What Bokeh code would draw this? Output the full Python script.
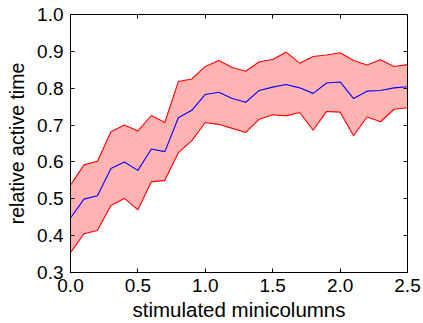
from bokeh.plotting import figure
from bokeh.models import LinearAxis, Range1d, FixedTicker, ColumnDataSource, PrintfTickFormatter
from bokeh.embed import file_html
from bokeh.resources import INLINE

x = [0.0, 0.1, 0.2, 0.3, 0.4, 0.5, 0.6, 0.7, 0.8, 0.9, 1.0, 1.1, 1.2,
     1.3, 1.4, 1.5, 1.6, 1.7, 1.8, 1.9, 2.0, 2.1, 2.2, 2.3, 2.4, 2.5]
mean = [0.448, 0.499, 0.508, 0.582, 0.600, 0.577, 0.635, 0.628, 0.720, 0.740,
        0.783, 0.789, 0.772, 0.762, 0.794, 0.803, 0.810, 0.801, 0.786, 0.814,
        0.817, 0.772, 0.792, 0.794, 0.801, 0.804]
upper = [0.537, 0.592, 0.602, 0.682, 0.700, 0.684, 0.726, 0.707, 0.818, 0.825,
         0.859, 0.875, 0.856, 0.846, 0.872, 0.878, 0.898, 0.868, 0.886, 0.890,
         0.896, 0.875, 0.863, 0.877, 0.859, 0.864]
lower = [0.354, 0.405, 0.414, 0.482, 0.501, 0.470, 0.546, 0.550, 0.625, 0.658,
         0.707, 0.702, 0.691, 0.680, 0.716, 0.728, 0.725, 0.734, 0.686, 0.737,
         0.735, 0.671, 0.722, 0.709, 0.743, 0.747]
x_ticks = [0.0, 0.5, 1.0, 1.5, 2.0, 2.5]
y_ticks = [0.3, 0.4, 0.5, 0.6, 0.7, 0.8, 0.9, 1.0]

src = ColumnDataSource(dict(x=x, mean=mean, upper=upper, lower=lower))

FONT = "Liberation Sans"

p = figure(width=423, height=323, output_backend="svg", toolbar_location=None,
           x_range=Range1d(0, 2.5), y_range=Range1d(0.3, 1.0),
           min_border_left=70, min_border_right=16, min_border_top=14, min_border_bottom=48,
           x_axis_label="stimulated minicolumns", y_axis_label="relative active time")

p.varea(x="x", y1="lower", y2="upper", source=src, fill_color="#FFB3B3", fill_alpha=1.0)
p.line(x="x", y="upper", source=src, line_color="#FF0000", line_width=1.1)
p.line(x="x", y="lower", source=src, line_color="#FF0000", line_width=1.1)
p.line(x="x", y="mean", source=src, line_color="#0000FF", line_width=1.1)

p.grid.visible = False
p.outline_line_color = "black"
p.outline_line_width = 1

for ax in (p.xaxis[0], p.yaxis[0]):
    ax.major_tick_in = 4
    ax.major_tick_out = 0
    ax.minor_tick_line_color = None
    ax.axis_line_color = "black"
    ax.major_tick_line_color = "black"
    ax.major_label_text_font = FONT
    ax.major_label_text_font_size = "19px"
    ax.major_label_text_color = "black"
    ax.axis_label_text_font = FONT
    ax.axis_label_text_font_style = "normal"
    ax.axis_label_text_color = "black"
    ax.major_label_standoff = 6
    ax.formatter = PrintfTickFormatter(format="%.1f")

p.xaxis[0].ticker = FixedTicker(ticks=x_ticks)
p.xaxis[0].axis_label_text_font_size = "20.5px"
p.xaxis[0].axis_label_standoff = 3
p.yaxis[0].ticker = FixedTicker(ticks=y_ticks)
p.yaxis[0].axis_label_text_font_size = "19.5px"
p.yaxis[0].major_label_standoff = 7
p.yaxis[0].axis_label_standoff = 6

top = LinearAxis(ticker=FixedTicker(ticks=x_ticks), major_tick_in=4, major_tick_out=0,
                 minor_tick_line_color=None, major_label_text_font_size="1px",
                 major_label_text_color=None, major_label_standoff=0,
                 axis_line_color="black")
right = LinearAxis(ticker=FixedTicker(ticks=y_ticks), major_tick_in=4, major_tick_out=0,
                   minor_tick_line_color=None, major_label_text_font_size="1px",
                   major_label_text_color=None, major_label_standoff=0,
                   axis_line_color="black")
p.add_layout(top, "above")
p.add_layout(right, "right")

open("out.html", "w").write(file_html(p, INLINE))
